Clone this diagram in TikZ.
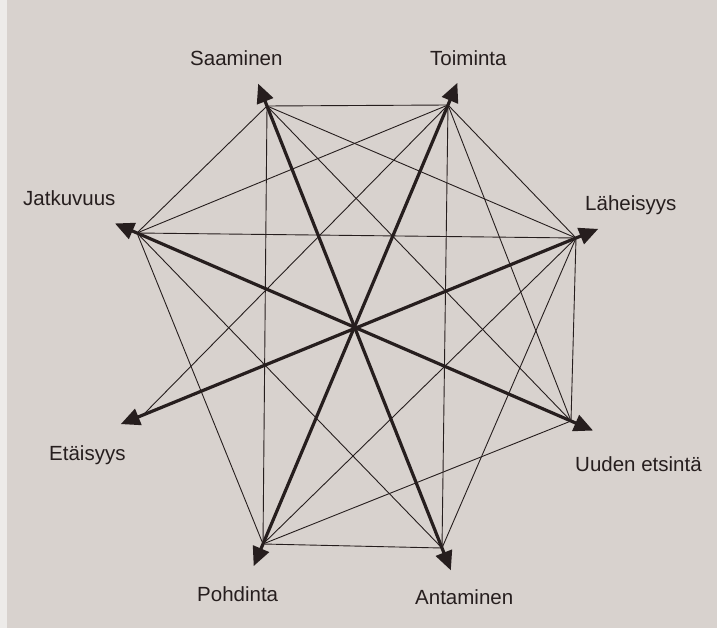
\documentclass[tikz,border=0pt]{standalone}
\usepackage{fontspec}
\setmainfont{Liberation Sans}
\usetikzlibrary{arrows.meta}
\definecolor{paper}{RGB}{216,210,206}
\definecolor{ink}{RGB}{38,30,30}
\begin{document}
\begin{tikzpicture}[x=1pt,y=-1pt,
  thinline/.style={draw=ink,line width=0.9pt},
  thickline/.style={draw=ink,line width=3.2pt,
    {Triangle[length=19pt,width=17pt]}-{Triangle[length=19pt,width=17pt]},
    shorten <=-24pt,shorten >=-24pt},
  lbl/.style={font=\fontsize{20.5}{24}\selectfont,text=ink,inner sep=0pt,anchor=base west}]
\fill[paper] (0,0) rectangle (717,628);
\fill[white!55!paper] (0,0) rectangle (7,628);
\useasboundingbox (0,0) rectangle (717,628);
% vertices
\coordinate (S) at (267,106);
\coordinate (T) at (448,105);
\coordinate (L) at (576,238);
\coordinate (U) at (571,421);
\coordinate (A) at (442,548);
\coordinate (P) at (263,544);
\coordinate (E) at (143,415);
\coordinate (J) at (137,233);
% labels
\node[lbl] (lS) at (190,66) {Saaminen};
\node[lbl] (lT) at (430,66) {Toiminta};
\node[lbl] (lJ) at (23,206) {Jatkuvuus};
\node[lbl] (lL) at (585,211) {Läheisyys};
\node[lbl] (lE) at (49,460) {Etäisyys};
\node[lbl] (lU) at (575,471) {Uuden etsintä};
\node[lbl] (lP) at (197,601) {Pohdinta};
\node[lbl] (lA) at (415,604) {Antaminen};
% thin connectors
\foreach \a/\b in {S/T,S/J,S/L,S/U,S/P,T/J,T/E,T/A,T/U,T/L,L/J,L/P,L/A,L/U,U/P,A/J,A/P,P/J}
  \draw[thinline] (\a) -- (\b);
% thick diagonals
\draw[thickline] (A) -- (S);
\draw[thickline] (P) -- (T);
\draw[thickline] (U) -- (J);
\draw[thickline] (E) -- (L);
\end{tikzpicture}
\end{document}
